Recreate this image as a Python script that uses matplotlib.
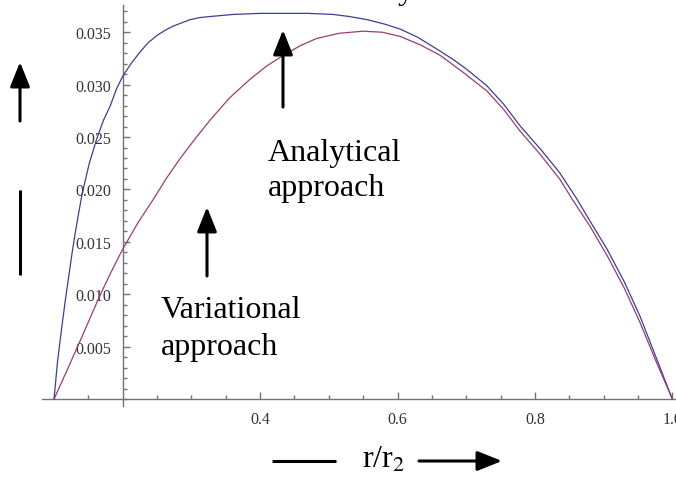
import matplotlib
matplotlib.use("Agg")
import matplotlib.pyplot as plt
from matplotlib.ticker import MultipleLocator, FixedLocator, FuncFormatter

plt.rcParams["font.family"] = ["Liberation Serif", "DejaVu Serif"]
plt.rcParams["mathtext.fontset"] = "stix"

# Analytical solution (upper curve)
r_analytical = [0.100, 0.105, 0.111, 0.116, 0.121, 0.126, 0.131, 0.136, 0.141,
                0.151, 0.162, 0.172, 0.182, 0.191, 0.200, 0.212, 0.225, 0.237,
                0.250, 0.262, 0.274, 0.286, 0.298, 0.312, 0.327, 0.344, 0.361,
                0.400, 0.433, 0.470, 0.506, 0.530, 0.556, 0.580, 0.604, 0.630,
                0.662, 0.681, 0.700, 0.730, 0.755, 0.778, 0.810, 0.836, 0.861,
                0.880, 0.905, 0.930, 0.953, 0.975, 1.000]
v_analytical = [0.0, 0.0035, 0.0067, 0.0092, 0.0115, 0.0138, 0.0159, 0.0178, 0.0196,
                0.0224, 0.0248, 0.0266, 0.0280, 0.0296, 0.0308, 0.0320, 0.0331, 0.0340,
                0.0347, 0.0352, 0.0356, 0.0359, 0.0362, 0.0364, 0.0365, 0.0366, 0.0367,
                0.0368, 0.0368, 0.0368, 0.0367, 0.0365, 0.0362, 0.0358, 0.0353, 0.0345,
                0.0332, 0.0324, 0.0315, 0.0299, 0.0281, 0.0261, 0.0237, 0.0216, 0.0191,
                0.0170, 0.0143, 0.0112, 0.0079, 0.0042, 0.0]

# Variational solution (lower curve)
r_variational = [0.100, 0.118, 0.135, 0.151, 0.167, 0.183, 0.200, 0.222, 0.245,
                 0.264, 0.283, 0.305, 0.327, 0.355, 0.385, 0.410, 0.434, 0.458,
                 0.482, 0.515, 0.550, 0.578, 0.604, 0.633, 0.662, 0.695, 0.730,
                 0.755, 0.778, 0.807, 0.836, 0.854, 0.880, 0.905, 0.930, 0.953,
                 0.975, 1.000]
v_variational = [0.0, 0.0026, 0.0051, 0.0075, 0.0099, 0.0121, 0.0143, 0.0168, 0.0191,
                 0.0211, 0.0229, 0.0248, 0.0266, 0.0287, 0.0305, 0.0318, 0.0328, 0.0337,
                 0.0344, 0.0349, 0.0351, 0.0350, 0.0346, 0.0338, 0.0328, 0.0312, 0.0294,
                 0.0276, 0.0256, 0.0234, 0.0210, 0.0191, 0.0165, 0.0137, 0.0106, 0.0073,
                 0.0038, 0.0]

x_major = [0.4, 0.6, 0.8, 1.0]
y_major = [0.005, 0.010, 0.015, 0.020, 0.025, 0.030, 0.035]

W, H = 676, 485
fig = plt.figure(figsize=(W / 100, H / 100), dpi=100)


def fx(x):
    return x / W


def fy(y):
    return 1 - y / H


# axes box in pixel terms: left 42, right 676, top 6, bottom 407
ax = fig.add_axes([fx(42), fy(407), fx(676) - fx(42), fy(6) - fy(407)])
ax.set_xlim(0.0825, 1.0054)
ax.set_ylim(-0.00067, 0.0376)

blue = (0.24, 0.24, 0.6)
purple = (0.6, 0.24, 0.443)
ax.plot(r_analytical, v_analytical, color=blue, lw=0.9, clip_on=False, zorder=3)
ax.plot(r_variational, v_variational, color=purple, lw=0.9, clip_on=False, zorder=3)

for side in ("top", "right"):
    ax.spines[side].set_visible(False)
ax.spines["left"].set_position(("data", 0.2))
ax.spines["bottom"].set_position(("data", 0.0))
axis_gray = (0.45, 0.45, 0.45)
for side in ("left", "bottom"):
    ax.spines[side].set_color(axis_gray)
    ax.spines[side].set_linewidth(1.0)

ax.xaxis.set_major_locator(FixedLocator(x_major))
ax.xaxis.set_minor_locator(FixedLocator([0.1, 0.15, 0.25, 0.3, 0.35, 0.45, 0.5, 0.55,
                                         0.65, 0.7, 0.75, 0.85, 0.9, 0.95]))
ax.yaxis.set_major_locator(FixedLocator(y_major))
ax.yaxis.set_minor_locator(MultipleLocator(0.001))
ax.xaxis.set_major_formatter(FuncFormatter(lambda v, p: f"{v:.1f}"))
ax.yaxis.set_major_formatter(FuncFormatter(lambda v, p: f"{v:.3f}"))

ax.tick_params(which="both", direction="in", color=axis_gray, width=1.0,
               labelsize=11.5, labelcolor=(0.2, 0.2, 0.2))
ax.tick_params(which="major", length=5)
ax.tick_params(which="minor", length=3)
ax.tick_params(axis="x", which="major", pad=9)
ax.tick_params(axis="y", which="major", pad=8)

text_kw = dict(fontsize=23, color="black", va="baseline", ha="left")


def bar(x0, y0, x1, y1):
    fig.add_artist(plt.Line2D([fx(x0), fx(x1)], [fy(y0), fy(y1)], color="black",
                              lw=2.2, solid_capstyle="butt"))


def head(x0, y0, x1, y1):
    ax.annotate("", xy=(x1, H - y1), xycoords="figure pixels",
                xytext=(x0, H - y0), textcoords="figure pixels",
                arrowprops=dict(arrowstyle="-|>,head_length=0.75,head_width=0.3",
                                mutation_scale=20, lw=2.2, color="black",
                                shrinkA=0, shrinkB=0))


# curve labels with pointer arrows
fig.text(fx(268), fy(161), "Analytical", **text_kw)
fig.text(fx(268), fy(196), "approach", **text_kw)
head(283, 108, 283, 31)

fig.text(fx(161), fy(318), "Variational", **text_kw)
fig.text(fx(161), fy(355), "approach", **text_kw)
head(207, 277, 207, 208)

# vertical axis marker on the left
head(20, 122, 20, 63)
bar(20, 191, 20, 276)

# horizontal axis label
bar(272, 462, 336, 462)
fig.text(fx(362), fy(468), r"r/r$_2$", **text_kw)
head(419, 462, 502, 462)

# descender of a heading lying just above the figure
fig.text(fx(398), fy(-1), "y", **text_kw)

fig.savefig("out.png", dpi=100)
